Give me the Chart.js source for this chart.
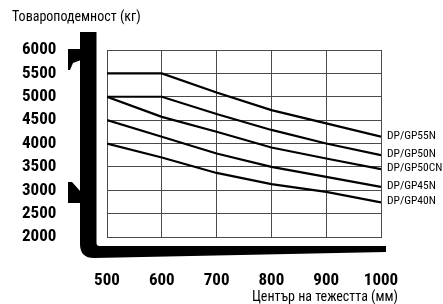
<!DOCTYPE html>
<html>
<head>
<meta charset="utf-8">
<script src="https://cdn.jsdelivr.net/npm/chart.js@4"></script>
<style>
  html, body { margin: 0; padding: 0; background: #fff; }
  #wrap { width: 443px; height: 304px; }
</style>
</head>
<body>
<div id="wrap"><canvas id="loadChart" width="443" height="304"></canvas></div>
<script>
// load center (mm) on the x axis
const loadCenters = [500, 600, 700, 800, 900, 1000];

// capacity (kg) per model
const gp55n  = [5500, 5500, 5090, 4715, 4430, 4145];
const gp50n  = [5000, 5000, 4630, 4290, 4000, 3750];
const gp50cn = [5000, 4570, 4250, 3915, 3680, 3450];
const gp45n  = [4500, 4145, 3785, 3500, 3285, 3070];
const gp40n  = [4000, 3700, 3370, 3130, 2965, 2740];

const seriesNames = ['DP/GP55N', 'DP/GP50N', 'DP/GP50CN', 'DP/GP45N', 'DP/GP40N'];
const seriesValues = [gp55n, gp50n, gp50cn, gp45n, gp40n];

const yTitle = 'Товароподемност (кг)';
const xTitle = 'Център на тежестта (мм)';

const narrow = "'Roboto Condensed', 'Liberation Sans Narrow', sans-serif";
const gridColor = '#4a4a4a';

// forklift silhouette (mast + forks) drawn around the plot area
const forkliftPlugin = {
    id: 'forklift',
    afterDraw(chart) {
        const { ctx, chartArea } = chart;
        const L = chartArea.left, B = chartArea.bottom, T = chartArea.top, R = chartArea.right;
        ctx.save();
        ctx.fillStyle = '#000';

        // mast
        const mx0 = L - 27, mx1 = L - 10.5;
        ctx.beginPath();
        ctx.moveTo(mx0, T - 18);
        ctx.lineTo(mx1, T - 18);
        ctx.lineTo(mx1, B + 6);
        ctx.quadraticCurveTo(mx1, B + 9, mx1 + 3, B + 9);
        ctx.lineTo(R + 5, B + 9);
        ctx.lineTo(R + 5, B + 15);
        ctx.lineTo(mx0 + 14, B + 21);
        ctx.quadraticCurveTo(mx0, B + 21, mx0, B + 7);
        ctx.closePath();
        ctx.fill();

        // upper hook
        ctx.beginPath();
        ctx.moveTo(L - 39, T - 1);
        ctx.lineTo(mx0 + 1, T - 1);
        ctx.lineTo(mx0 + 1, T + 10);
        ctx.lineTo(L - 34, T + 13);
        ctx.lineTo(L - 37, T + 20);
        ctx.lineTo(L - 39, T + 20);
        ctx.closePath();
        ctx.fill();

        // lower hook
        ctx.beginPath();
        ctx.moveTo(L - 39, B - 55);
        ctx.lineTo(L - 35, B - 55);
        ctx.lineTo(mx0 + 1, B - 45);
        ctx.lineTo(mx0 + 1, B - 34);
        ctx.lineTo(L - 39, B - 34);
        ctx.closePath();
        ctx.fill();
        ctx.restore();
    }
};

// axis titles and the model names at the line ends
const labelsPlugin = {
    id: 'labels',
    afterDraw(chart) {
        const { ctx, chartArea } = chart;
        ctx.save();
        ctx.fillStyle = '#000';
        ctx.textBaseline = 'middle';

        ctx.font = '14px ' + narrow;
        ctx.textAlign = 'left';
        ctx.fillText(yTitle, 12, 17);

        ctx.textAlign = 'right';
        ctx.fillText(xTitle, chartArea.right + 17, 297);

        ctx.font = '11.5px ' + narrow;
        ctx.textAlign = 'left';
        chart.data.datasets.forEach((ds, i) => {
            const meta = chart.getDatasetMeta(i);
            const last = meta.data[meta.data.length - 1];
            ctx.fillText(ds.label, last.x + 6, last.y - 1);
        });
        ctx.restore();
    }
};

const tickFont = { family: narrow, size: 17, weight: 'bold' };

const ctx = document.getElementById('loadChart').getContext('2d');
window.loadChart = new Chart(ctx, {
    type: 'line',
    data: {
        datasets: seriesNames.map((name, i) => ({
            label: name,
            data: loadCenters.map((c, j) => ({ x: c, y: seriesValues[i][j] })),
            borderColor: '#000',
            borderWidth: 2.2,
            pointRadius: 0,
            fill: false,
            tension: 0
        }))
    },
    options: {
        responsive: false,
        animation: false,
        layout: { padding: { left: 22, right: 62, top: 50, bottom: 0 } },
        plugins: {
            legend: { display: false },
            title: { display: false },
            tooltip: { enabled: false }
        },
        scales: {
            x: {
                type: 'linear',
                min: 500,
                max: 1000,
                afterFit: (scale) => { scale.height = 67; },
                ticks: {
                    stepSize: 100,
                    padding: 34,
                    autoSkip: false,
                    maxRotation: 0,
                    minRotation: 0,
                    color: '#000',
                    font: tickFont,
                    callback: (v) => String(v)
                },
                grid: { color: gridColor, lineWidth: 1, drawTicks: false },
                border: { color: gridColor }
            },
            y: {
                type: 'linear',
                min: 2000,
                max: 6000,
                afterFit: (scale) => { scale.width = 85; },
                ticks: {
                    stepSize: 500,
                    padding: 0,
                    crossAlign: 'far',
                    autoSkip: false,
                    color: '#000',
                    font: tickFont,
                    callback: (v) => String(v)
                },
                grid: { color: gridColor, lineWidth: 1, drawTicks: false },
                border: { color: gridColor }
            }
        }
    },
    plugins: [forkliftPlugin, labelsPlugin]
});
</script>
</body>
</html>
